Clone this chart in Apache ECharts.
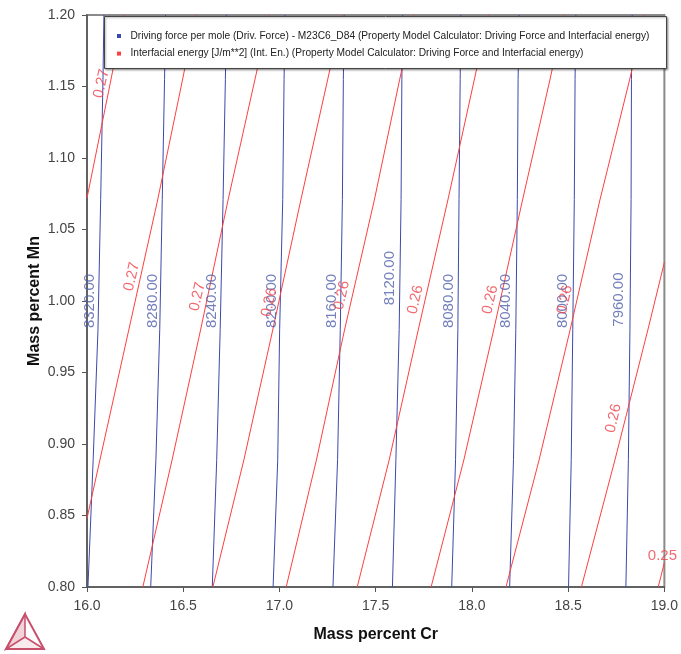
<!DOCTYPE html>
<html>
<head>
<meta charset="utf-8">
<script src="https://cdn.jsdelivr.net/npm/echarts@6/dist/echarts.min.js"></script>
<style>
html,body{margin:0;padding:0;background:#fff;}
#chart{width:681px;height:654px;}
</style>
</head>
<body>
<div id="chart"></div>
<script>
// ---- data ----
const seriesNames = [
  'Driving force per mole (Driv. Force) - M23C6_D84 (Property Model Calculator: Driving Force and Interfacial energy)',
  'Interfacial energy [J/m**2] (Int. En.) (Property Model Calculator: Driving Force and Interfacial energy)'
];
const xTicks = [16.0, 16.5, 17.0, 17.5, 18.0, 18.5, 19.0];
const yTicks = [0.80, 0.85, 0.90, 0.95, 1.00, 1.05, 1.10, 1.15, 1.20];

// Driving force contours: Cr (mass %) at these Mn levels
const dfMnLevels = [0.80, 0.889, 0.980, 1.071, 1.155, 1.20];
const dfValues = ['8320.00','8280.00','8240.00','8200.00','8160.00','8120.00','8080.00','8040.00','8000.00','7960.00'];
const dfCr = [
  [16.005, 16.032, 16.057, 16.071, 16.083, 16.088],
  [16.331, 16.358, 16.378, 16.391, 16.403, 16.408],
  [16.651, 16.674, 16.692, 16.707, 16.719, 16.724],
  [16.967, 16.991, 17.001, 17.017, 17.024, 17.029],
  [17.278, 17.302, 17.316, 17.327, 17.332, 17.336],
  [17.587, 17.605, 17.622, 17.632, 17.636, 17.640],
  [17.895, 17.915, 17.927, 17.933, 17.939, 17.942],
  [18.196, 18.216, 18.228, 18.236, 18.240, 18.245],
  [18.502, 18.516, 18.524, 18.532, 18.536, 18.540],
  [18.800, 18.813, 18.821, 18.827, 18.829, 18.833]
];
const dfLabelCr = [16.016, 16.343, 16.649, 16.960, 17.270, 17.576, 17.878, 18.174, 18.473, 18.766];
const dfLabelMn = [1.000, 1.000, 1.000, 1.000, 1.000, 1.016, 1.000, 1.000, 1.000, 1.001];

// Interfacial energy contours: [Cr, Mn] points
const ieLines = [
  [[16.0, 1.072], [16.124, 1.1545], [16.191, 1.20]],
  [[16.0, 0.848], [16.067, 0.8888], [16.217, 0.9797], [16.367, 1.0706], [16.496, 1.1545], [16.564, 1.20]],
  [[16.290, 0.80], [16.442, 0.8888], [16.590, 0.9797], [16.733, 1.0706], [16.872, 1.1545], [16.947, 1.20]],
  [[16.654, 0.80], [16.815, 0.8888], [16.965, 0.9797], [17.111, 1.0706], [17.250, 1.1545], [17.324, 1.20]],
  [[17.035, 0.80], [17.192, 0.8888], [17.338, 0.9797], [17.493, 1.0706], [17.624, 1.1545], [17.697, 1.20]],
  [[17.404, 0.80], [17.570, 0.8888], [17.721, 0.9797], [17.875, 1.0706], [18.012, 1.1545], [18.085, 1.20]],
  [[17.788, 0.80], [17.958, 0.8888], [18.113, 0.9797], [18.263, 1.0706], [18.405, 1.1545], [18.478, 1.20]],
  [[18.177, 0.80], [18.349, 0.8888], [18.510, 0.9797], [18.665, 1.0706], [18.819, 1.1545], [18.897, 1.20]],
  [[18.569, 0.80], [18.743, 0.8888], [18.914, 0.9797], [19.0, 1.027]],
  [[18.968, 0.80], [19.0, 0.817]]
];
const ieLabels = ['0.27','0.27','0.27','0.26','0.26','0.26','0.26','0.26','0.26','0.25'];
const ieLabelCr = [16.075, 16.233, 16.574, 16.947, 17.324, 17.707, 18.095, 18.483, 18.736, 18.990];
const ieLabelMn = [1.152, 1.017, 1.003, 0.999, 1.004, 1.001, 1.001, 1.001, 0.918, 0.822];

// ---- chart ----
const FONT = 'Liberation Sans, Arial, sans-serif';
const BLUE = '#3a4aac';
const RED = '#ff3f3f';
const chart = echarts.init(document.getElementById('chart'), null, {renderer: 'canvas'});

const series = [];
dfCr.forEach(function (crs) {
  series.push({
    name: seriesNames[0], type: 'line', showSymbol: false, symbol: 'none', silent: true,
    lineStyle: {color: BLUE, width: 1}, itemStyle: {color: BLUE}, z: 2,
    data: crs.map(function (c, i) { return [c, dfMnLevels[i]]; })
  });
});
ieLines.forEach(function (pts) {
  series.push({
    name: seriesNames[1], type: 'line', showSymbol: false, symbol: 'none', silent: true,
    lineStyle: {color: RED, width: 1}, itemStyle: {color: RED}, z: 2,
    data: pts
  });
});
series.push({
  name: 'dfLabels', type: 'scatter', symbolSize: 0, silent: true, z: 3,
  data: dfValues.map(function (v, i) { return [dfLabelCr[i], dfLabelMn[i], v]; }),
  label: {
    show: true, position: 'inside', rotate: 90, color: '#5060aa',
    fontSize: 15, fontFamily: FONT,
    formatter: function (p) { return p.value[2]; }
  }
});
series.push({
  name: 'ieLabels', type: 'scatter', symbolSize: 0, silent: true, z: 3,
  data: ieLabels.map(function (v, i) {
    return {
      value: [ieLabelCr[i], ieLabelMn[i], v],
      label: {rotate: i === ieLabels.length - 1 ? 0 : 77}
    };
  }),
  label: {
    show: true, position: 'inside', color: '#f0444c',
    fontSize: 15, fontFamily: FONT,
    formatter: function (p) { return p.value[2]; }
  }
});

const option = {
  backgroundColor: '#ffffff',
  animation: false,
  grid: {left: 87, right: 14, top: 15, bottom: 67, show: true, borderColor: '#8a8a8a', borderWidth: 2, backgroundColor: 'transparent'},
  xAxis: {
    type: 'value', min: 16, max: 19, interval: 0.5,
    name: 'Mass percent Cr', nameLocation: 'middle', nameGap: 40, nameMoveOverlap: false,
    nameTextStyle: {fontSize: 16, fontWeight: 'bold', color: '#111', fontFamily: FONT},
    axisLine: {show: true, lineStyle: {color: '#555', width: 1.5}},
    axisTick: {show: true, length: 5, lineStyle: {color: '#555'}},
    axisLabel: {fontSize: 14, color: '#444', fontFamily: FONT, margin: 12,
      formatter: function (v) { return v.toFixed(1); }},
    splitLine: {show: false}
  },
  yAxis: {
    type: 'value', min: 0.8, max: 1.2, interval: 0.05,
    name: 'Mass percent Mn', nameLocation: 'middle', nameGap: 44, nameMoveOverlap: false,
    nameTextStyle: {fontSize: 16, fontWeight: 'bold', color: '#111', fontFamily: FONT},
    axisLine: {show: true, lineStyle: {color: '#555', width: 1.5}},
    axisTick: {show: true, length: 5, lineStyle: {color: '#555'}},
    axisLabel: {fontSize: 14, color: '#444', fontFamily: FONT, margin: 12,
      formatter: function (v) { return v.toFixed(2); }},
    splitLine: {show: false}
  },
  legend: {
    data: seriesNames, orient: 'vertical', left: 117, top: 29, padding: 0,
    itemWidth: 13, itemHeight: 4, itemGap: 3.6, icon: 'path://M0,0h4v4h-4z',
    selectedMode: false,
    textStyle: {fontSize: 10.2, color: '#222', fontFamily: FONT, lineHeight: 14},
    z: 6
  },
  graphic: [
    {type: 'rect', z: 5, shape: {x: 104.5, y: 16.5, width: 562, height: 52},
     style: {fill: '#fff', stroke: '#444', lineWidth: 1, shadowBlur: 2, shadowOffsetX: 1, shadowOffsetY: 1, shadowColor: 'rgba(0,0,0,0.35)'}},
    {type: 'polygon', z: 5, shape: {points: [[6, 649], [44, 649], [25, 614]]},
     style: {fill: 'rgba(0,0,0,0)', stroke: '#c8506c', lineWidth: 2}},
    {type: 'polygon', z: 5, shape: {points: [[25, 614], [25, 637], [6, 649]]},
     style: {fill: 'rgba(200,80,108,0.25)', stroke: '#c8506c', lineWidth: 1.5}},
    {type: 'polyline', z: 5, shape: {points: [[25, 637], [44, 649]]},
     style: {stroke: '#c8506c', lineWidth: 1.5}},
    {type: 'polygon', z: 5, shape: {points: [[25, 637], [44, 649], [6, 649]]},
     style: {fill: 'rgba(200,80,108,0.12)', stroke: 'rgba(0,0,0,0)'}}
  ],
  series: series
};
chart.setOption(option);
</script>
</body>
</html>
